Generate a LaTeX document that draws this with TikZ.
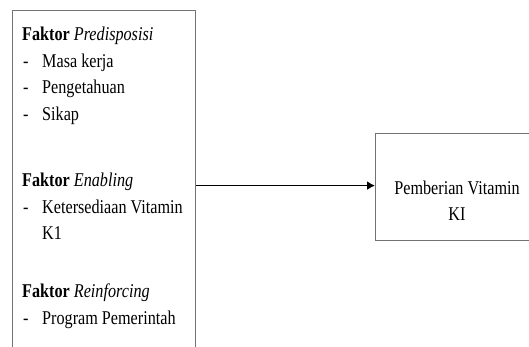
\documentclass[tikz,border=0pt]{standalone}
\usepackage{fontspec}
\setmainfont[FakeStretch=0.83]{Liberation Serif}
\usetikzlibrary{arrows.meta}
\tikzstyle{box}=[draw=black!55, line width=1.2pt, inner sep=0pt]
\tikzstyle{txt}=[anchor=base west, inner sep=0pt, font=\fontsize{19.5}{26}\selectfont]

\begin{document}
\begin{tikzpicture}[x=1pt, y=-1pt]
    \useasboundingbox (0,0) rectangle (529,347);
    \node[box, anchor=north west, minimum width=183pt, minimum height=350pt] (faktor) at (12,10) {};
    \node[box, anchor=north west, minimum width=165pt, minimum height=107pt] (beri) at (375,133) {};
    % base = baseline of the last line (KI)
    \node[txt, anchor=base, align=center] (beritxt) at (457,220) {Pemberian Vitamin\\KI};
    \node[txt] (h1) at (22,41) {\textbf{Faktor} \textit{Predisposisi}};
    \node[txt] (h2) at (22,186) {\textbf{Faktor} \textit{Enabling}};
    \node[txt] (h3) at (22,297) {\textbf{Faktor} \textit{Reinforcing}};
    \foreach \name/\y/\item in
      {a1/68/Masa kerja, a2/94/Pengetahuan, a3/121/Sikap,
       b1/213/Ketersediaan Vitamin, c1/324/Program Pemerintah}
    {
      \node[txt] at (23,\y) {-};
      \node[txt] (\name) at (42,\y) {\item};
    }
    \node[txt] (b2) at (42,239) {K1};
    \draw[-{Latex[length=8pt,width=9pt]}, line width=1.5pt] (faktor.east) -- (beri.west |- faktor.east);
\end{tikzpicture}
\end{document}
